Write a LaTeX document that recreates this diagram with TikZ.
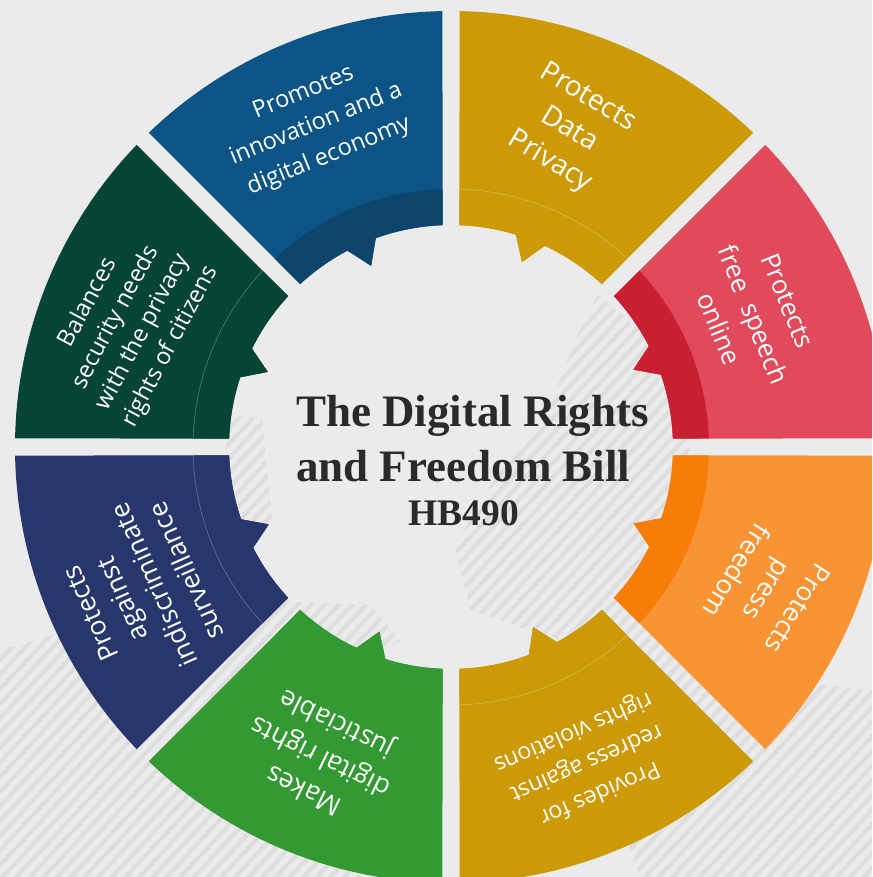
\documentclass[tikz,border=0pt]{standalone}
\usepackage{fontspec}
\usepackage{tikz}
\newfontfamily\segfont{Open Sans}
\newfontfamily\titlefont{Liberation Serif}
\definecolor{bggray}{HTML}{EBEBEB}
\definecolor{stripegray}{HTML}{DDDDDD}
\definecolor{innoblue}{HTML}{0B5485}
\definecolor{innoband}{HTML}{0D4469}
\definecolor{privgold}{HTML}{CC9A06}
\definecolor{speechred}{HTML}{E04A5B}
\definecolor{speechband}{HTML}{C81F32}
\definecolor{pressorange}{HTML}{F99435}
\definecolor{pressband}{HTML}{F77D08}
\definecolor{justgreen}{HTML}{339933}
\definecolor{survnavy}{HTML}{28376B}
\definecolor{secgreen}{HTML}{064536}
\definecolor{titlegray}{HTML}{2A2A2A}

\begin{document}
\begin{tikzpicture}[x=1pt, y=1pt,
    segtext/.style 2 args={text=white, align=center, font=\segfont\fontsize{#1}{#2}\selectfont},
    headline/.style={text=titlegray, inner sep=0pt, font=\titlefont\bfseries\fontsize{45}{54}\selectfont},
    stripe/.style={stripegray, line width=4.2pt},
    bandline/.style={white, line width=0.6pt}]
    \useasboundingbox (-451,-430) rectangle (421,447);
    \clip (-451,-430) rectangle (421,447);
    \fill[bggray] (-451,-430) rectangle (421,447);
    % Map texture behind the ring (image coordinates)
    \begin{scope}[shift={(-451,447)}, yscale=-1]
        \clip (598,295) -- (640,330) -- (690,450) -- (700,620) -- (780,680) -- (872,690) -- (872,877)
              -- (640,877) -- (600,760) -- (560,640) -- (470,610) -- (455,545) -- (500,470) -- (545,420) -- (575,340) -- cycle
              (226,415) -- (262,418) -- (272,520) -- (240,545) -- (226,530) -- cycle
              (0,650) -- (70,630) -- (180,650) -- (250,600) -- (370,605) -- (400,640) -- (330,700) -- (310,790) -- (360,877) -- (0,877) -- cycle;
        \foreach \k in {0,...,125}
            \draw[stripe, rotate=43] (\k*10,-620) -- (\k*10,660);
    \end{scope}
    % Ring segments: start angle / colour / band colour / tab angle / band line
    \foreach \a/\main/\band/\t/\op in {90/innoblue/innoband/113.8/0, 45/privgold/privgold/69/0.3,
        0/speechred/speechband/23/0, -45/pressorange/pressband/-22.7/0, -90/privgold/privgold/-65.5/0.3,
        -135/justgreen/justgreen/-111.2/0, 180/survnavy/survnavy/203/0.3, 135/secgreen/secgreen/157.7/0.3} {
        \fill[\main] (\a+1.12:436) arc[start angle=\a+1.12, end angle=\a+43.88, radius=436]
            -- (\a+42.81:222) arc[start angle=\a+42.81, end angle=\t+4, radius=222]
            -- (\t:198) -- (\t-4:222) arc[start angle=\t-4, end angle=\a+2.19, radius=222] -- cycle;
        \fill[\band] (\a+1.89:258) arc[start angle=\a+1.89, end angle=\a+43.11, radius=258]
            -- (\a+42.81:222) arc[start angle=\a+42.81, end angle=\t+4, radius=222]
            -- (\t:198) -- (\t-4:222) arc[start angle=\t-4, end angle=\a+2.19, radius=222] -- cycle;
        \draw[bandline, opacity=\op] (\a+1.89:258) arc[start angle=\a+1.89, end angle=\a+43.11, radius=258];
    }
    % Segment texts
    \node[segtext={23.5}{34}, rotate=22] (innovation) at (112.7:349) {Promotes\\innovation and a\\digital economy};
    \node[segtext={28}{37}, rotate=-31] (dataprivacy) at (69.6:338) {Protects\\Data\\Privacy};
    \node[segtext={26}{37}, rotate=-68] (freespeech) at (23.6:330) {Protects\\free\ \ speech\\online};
    \node[segtext={26}{36}, rotate=-122] (pressfreedom) at (-24.3:347) {Protects\\press\\freedom};
    \node[segtext={23}{33}, rotate=-156.5] (redress) at (-66.8:343) {Provides for\\redress against\\rights violations};
    \node[segtext={26.5}{37}, rotate=154] (justiciable) at (-112.8:335) {Makes\\digital rights\\justiciable};
    \node[segtext={26.5}{35}, rotate=114] (surveillance) at (204.9:345) {Protects\\against\\indiscriminate\\surveillance};
    \node[segtext={23.5}{31}, rotate=62] (security) at (159.2:344) {Balances\\security needs\\with the privacy\\rights of citizens};
    % Title in the centre
    \node[headline, anchor=base west] (titletop) at (-155,20) {The Digital Rights};
    \node[headline, anchor=base west] (titlebottom) at (-155,-35) {and Freedom Bill};
    \node[headline, anchor=base, font=\titlefont\bfseries\fontsize{37.5}{45}\selectfont] (billno) at (13,-79) {HB490};
\end{tikzpicture}
\end{document}
